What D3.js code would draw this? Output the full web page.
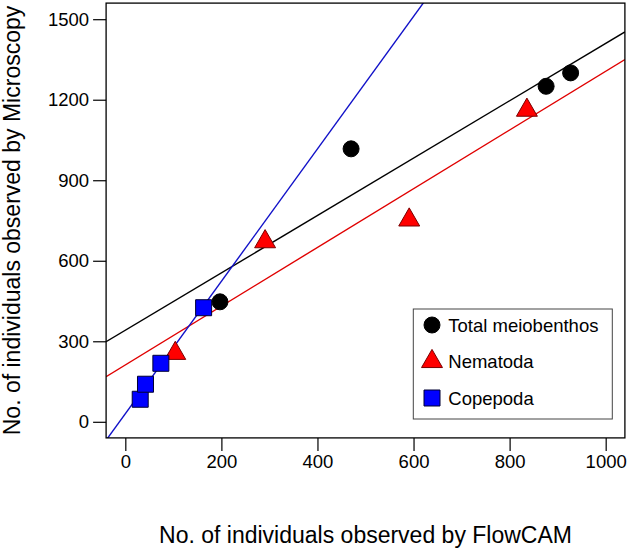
<!DOCTYPE html>
<html>
<head>
<meta charset="utf-8">
<script src="https://cdn.jsdelivr.net/npm/d3@7"></script>
<style>
  html, body { margin: 0; padding: 0; background: #fff; }
  svg { display: block; font-family: "Liberation Sans", Arial, Helvetica, sans-serif; }
</style>
</head>
<body>
<svg id="chart" width="628" height="550"></svg>
<script>
// ---- data ----
const seriesNames = ["Total meiobenthos", "Nematoda", "Copepoda"];
const totalX = [197, 470, 876, 927];
const totalY = [447, 1017, 1250, 1300];
const nemaX = [104, 291, 591, 836];
const nemaY = [255, 671, 752, 1161];
const copeX = [31, 42, 74, 163];
const copeY = [84, 140, 218, 425];
// fitted lines (intercept, slope) per series
const lineIntercepts = [341, 212, 30];
const lineSlopes = [1.069, 1.094, 2.467];
const xTicks = [0, 200, 400, 600, 800, 1000];
const yTicks = [0, 300, 600, 900, 1200, 1500];
const xTitle = "No. of individuals observed by FlowCAM";
const yTitle = "No. of individuals observed by Microscopy";

// ---- layout ----
const svg = d3.select("#chart");
const pL = 106.1, pR = 624.9, pT = 3.1, pB = 437.9;
const x = d3.scaleLinear().domain([-40, 1040]).range([pL, pR]);
const y = d3.scaleLinear().domain([-60, 1560]).range([pB, pT]);

const lineColors = ["#000000", "#e00000", "#1010c8"];
const fills = ["#000000", "#ff0000", "#0000ff"];
const strokes = ["#000000", "#7a0000", "#000033"];

svg.append("defs").append("clipPath").attr("id", "clip")
  .append("rect").attr("x", pL).attr("y", pT)
  .attr("width", pR - pL).attr("height", pB - pT);

// ---- regression lines ----
const lg = svg.append("g").attr("clip-path", "url(#clip)");
lineIntercepts.forEach((b, i) => {
  const m = lineSlopes[i];
  const x0 = -40, x1 = 1040;
  lg.append("line")
    .attr("x1", x(x0)).attr("y1", y(b + m * x0))
    .attr("x2", x(x1)).attr("y2", y(b + m * x1))
    .attr("stroke", lineColors[i]).attr("stroke-width", 1.4);
});

// ---- points ----
const sym = [d3.symbolCircle, d3.symbolTriangle, d3.symbolSquare];
const symSize = [201, 190, 256];
const pg = svg.append("g");
function drawPoints(xs, ys, i) {
  xs.forEach((xv, k) => {
    const px = x(xv), py = y(ys[k]);
    pg.append("path")
      .attr("d", d3.symbol().type(sym[i]).size(symSize[i])())
      .attr("transform", `translate(${px},${py})`)
      .attr("fill", fills[i]).attr("stroke", strokes[i]).attr("stroke-width", 1);
  });
}
drawPoints(totalX, totalY, 0);
drawPoints(nemaX, nemaY, 1);
drawPoints(copeX, copeY, 2);

// ---- axes ----
const xAxis = svg.append("g").attr("transform", `translate(0,${pB})`)
  .call(d3.axisBottom(x).tickValues(xTicks).tickSize(13).tickPadding(4).tickFormat(d3.format("d")));
const yAxis = svg.append("g").attr("transform", `translate(${pL},0)`)
  .call(d3.axisLeft(y).tickValues(yTicks).tickSize(13).tickPadding(4).tickFormat(d3.format("d")));
[xAxis, yAxis].forEach(a => {
  a.select(".domain").remove();
  a.selectAll(".tick line").attr("stroke", "#000").attr("stroke-width", 1.2);
  a.selectAll(".tick text").attr("fill", "#000").style("font-size", "18.5px")
    .style("font-family", '"Liberation Sans", Arial, Helvetica, sans-serif');
});

// ---- frame ----
svg.append("rect").attr("x", pL).attr("y", pT)
  .attr("width", pR - pL).attr("height", pB - pT)
  .attr("fill", "none").attr("stroke", "#000").attr("stroke-width", 1.3);

// ---- titles ----
svg.append("text").attr("x", (pL + pR) / 2).attr("y", 543)
  .attr("text-anchor", "middle").style("font-size", "23px").text(xTitle);
svg.append("text")
  .attr("transform", `translate(19.5,${(pT + pB) / 2}) rotate(-90)`)
  .attr("text-anchor", "middle").style("font-size", "23px").text(yTitle);

// ---- legend ----
const legX = 413.3, legY = 309, legW = 199, legH = 110;
const leg = svg.append("g");
leg.append("rect").attr("x", legX).attr("y", legY).attr("width", legW).attr("height", legH)
  .attr("fill", "#fff").attr("stroke", "#444").attr("stroke-width", 1);
const legRows = [325, 361.5, 398];
seriesNames.forEach((name, i) => {
  leg.append("path")
    .attr("d", d3.symbol().type(sym[i]).size(symSize[i])())
    .attr("transform", `translate(432,${legRows[i]})`)
    .attr("fill", fills[i]).attr("stroke", strokes[i]).attr("stroke-width", 1);
  leg.append("text").attr("x", 448.3).attr("y", legRows[i])
    .attr("dy", "0.36em").style("font-size", "18.5px").text(name);
});
</script>
</body>
</html>
